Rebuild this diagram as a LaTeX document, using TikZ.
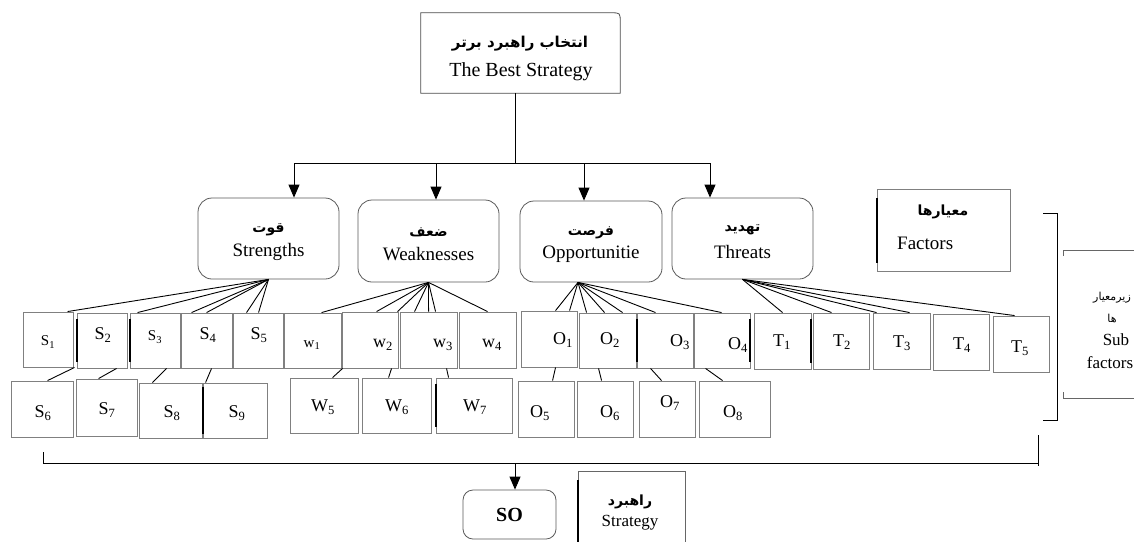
\documentclass[tikz,border=0pt]{standalone}
\usepackage{fontspec}
\setmainfont{Liberation Serif}
\newfontfamily\fa[Script=Arabic]{DejaVu Sans}
\TeXXeTstate=1
\usetikzlibrary{arrows.meta,calc,fit}
\tikzset{
  boxline/.style={draw=black!70, line width=0.8pt},
  factorbox/.style={draw=black!65, line width=0.8pt, rounded corners=14pt, inner sep=0pt},
  subbx/.style={draw=black!50, line width=0.9pt, inner sep=0pt},
  conn/.style={draw=black, line width=0.9pt},
  thickedge/.style={draw=black, line width=2pt},
  arr/.style={draw=black, line width=0.9pt, -{Triangle[length=13pt,width=11pt]}},
  lat/.style={font=\fontsize{19}{22}\selectfont, inner sep=0pt},
  smlat/.style={font=\fontsize{17}{20}\selectfont, inner sep=0pt},
  per/.style={font=\fa\bfseries\fontsize{14}{18}\selectfont, inner sep=0pt},
  smper/.style={font=\fa\fontsize{11}{14}\selectfont, inner sep=0pt},
  sublab/.style={font=\fontsize{18}{20}\selectfont, inner sep=0pt},
}
\newcommand\mkbox[8]{%
  \coordinate (#1a) at (#2,#3);
  \coordinate (#1b) at (#4,#5);
  \node[subbx, fit=(#1a)(#1b)] (#1) {};
  \node[sublab] (#1t) at (#6,#7) {#8};}
\newcommand\sbs[2]{#1\textsubscript{#2}}
\newcommand\smsbs[2]{{\fontsize{15}{16}\selectfont #1\textsubscript{#2}}}
\newcommand\mkfactor[7]{%
  \coordinate (#1a) at (#2,#3);
  \coordinate (#1b) at (#4,#5);
  \node[factorbox, fit=(#1a)(#1b)] (#1) {};
  \node[per] (#1fa) at ($(#1.center)+(0,-9)$) {\beginR #6\endR};
  \node[lat] (#1en) at ($(#1.center)+(0,13)$) {#7};}
\begin{document}
\begin{tikzpicture}[x=1pt,y=-1pt]
\useasboundingbox (0,0) rectangle (1134,542);

% top box
\node[minimum width=199pt, minimum height=80pt, inner sep=0pt] (top) at (520.5,53) {};
\draw[boxline] (top.south west) -- (top.north west) -- ([xshift=-9pt]top.north east)
  .. controls (top.north east) .. ([yshift=-9pt]top.north east) -- (top.south east) -- cycle;
\node[per, font=\fa\bfseries\fontsize{15}{18}\selectfont] (topfa) at (520,44) {\beginR انتخاب راهبرد برتر\endR};
\node[lat, font=\fontsize{20}{22}\selectfont] (topen) at (521,72) {The Best Strategy};

% factor boxes
\mkfactor{str}{198}{198}{339}{279}{قوت}{Strengths}
\mkfactor{weak}{358}{200}{499}{282}{ضعف}{Weaknesses}
\mkfactor{opp}{520}{201}{662}{282}{فرصت}{Opportunitie}
\mkfactor{thr}{672}{198}{813}{279}{تهدید}{Threats}

% tree connectors
\coordinate (j) at (515,163);
\coordinate (a1) at (294,163);
\coordinate (a2) at (436,163);
\coordinate (a3) at (584,163);
\coordinate (a4) at (710,163);
\draw[conn] (j |- top.south) -- (j);
\draw[conn] (a1) -- (a4);
\draw[arr] (a1) -- (a1 |- str.north);
\draw[arr] (a2) -- (a2 |- weak.north);
\draw[arr] (a3) -- (a3 |- opp.north);
\draw[arr] (a4) -- (a4 |- thr.north);

% sub factor boxes, row 1
\mkbox{s1}{23}{312}{73}{367}{48}{342}{\smsbs{S}{1}}
\mkbox{s2}{77}{313}{127}{368}{103}{335}{\sbs{S}{2}}
\mkbox{s3}{130}{313}{180}{368}{155}{337}{\smsbs{S}{3}}
\mkbox{s4}{181}{313}{232}{368}{208}{335}{\sbs{S}{4}}
\mkbox{s5}{233}{313}{283}{368}{259}{335}{\sbs{S}{5}}
\mkbox{w1}{284}{313}{341}{368}{312}{345}{\smsbs{w}{1}}
\mkbox{w2}{342}{312}{398}{368}{383}{345}{\sbs{w}{2}}
\mkbox{w3}{400}{312}{457}{368}{443}{345}{\sbs{w}{3}}
\mkbox{w4}{459}{312}{516}{368}{492}{345}{\sbs{w}{4}}
\mkbox{o1}{521}{311}{577}{367}{563}{340}{\sbs{O}{1}}
\mkbox{o2}{579}{313}{636}{368}{610}{340}{\sbs{O}{2}}
\mkbox{o3}{637}{313}{693}{368}{680}{342}{\sbs{O}{3}}
\mkbox{o4}{694}{313}{750}{368}{738}{345}{\sbs{O}{4}}
\mkbox{t1}{754}{313}{811}{369}{782}{342}{\sbs{T}{1}}
\mkbox{t2}{813}{313}{869}{369}{842}{342}{\sbs{T}{2}}
\mkbox{t3}{873}{313}{930}{369}{902}{343}{\sbs{T}{3}}
\mkbox{t4}{933}{314}{989}{370}{962}{345}{\sbs{T}{4}}
\mkbox{t5}{993}{316}{1049}{372}{1020}{348}{\sbs{T}{5}}
% row 2
\mkbox{s6}{11}{381}{73}{437}{43}{413}{\sbs{S}{6}}
\mkbox{s7}{76}{379}{137}{436}{107}{410}{\sbs{S}{7}}
\mkbox{s8}{139}{383}{202}{438}{172}{413}{\sbs{S}{8}}
\mkbox{s9}{203}{383}{267}{438}{237}{413}{\sbs{S}{9}}
\mkbox{w5}{290}{378}{358}{433}{323}{407}{\sbs{W}{5}}
\mkbox{w6}{362}{378}{431}{433}{397}{407}{\sbs{W}{6}}
\mkbox{w7}{436}{378}{512}{433}{475}{407}{\sbs{W}{7}}
\mkbox{o5}{518}{381}{574}{437}{540}{413}{\sbs{O}{5}}
\mkbox{o6}{577}{381}{633}{437}{610}{413}{\sbs{O}{6}}
\mkbox{o7}{639}{381}{695}{437}{670}{403}{\sbs{O}{7}}
\mkbox{o8}{699}{381}{770}{437}{733}{413}{\sbs{O}{8}}

% some dark edges
\draw[thickedge] ([yshift=-6pt]s2.north west) -- ([yshift=6pt]s2.south west);
\draw[thickedge] ([yshift=-6pt]s3.north west) -- ([yshift=6pt]s3.south west);
\draw[thickedge] ([yshift=-6pt]o3.north west) -- ([yshift=6pt]o3.south west);
\draw[thickedge] ([yshift=-6pt]o4.north east) -- ([yshift=6pt]o4.south east);
\draw[thickedge] ([yshift=-6pt]t1.north east) -- ([yshift=6pt]t1.south east);
\draw[thickedge] ([yshift=-6pt]w7.north west) -- ([yshift=6pt]w7.south west);
\draw[thickedge] ([yshift=-4pt]s9.north west) -- ([yshift=4pt]s9.south west);

% connectors from factors to sub factors
\coordinate (sap) at (str.south);
\coordinate (wap) at (weak.south);
\coordinate (oap) at ([xshift=-13pt]opp.south);
\coordinate (tap) at (thr.south);
\foreach \n/\d in {s1/45, s3/8, s4/11, s4/26, s5/14, s5/26}
  \draw[conn] (sap) -- ($(\n.north west)+(\d,0)$);
\foreach \n/\d in {w1/38, w2/35, w2/56, w3/15, w3/29, w3/36, w4/29}
  \draw[conn] (wap) -- ($(\n.north west)+(\d,0)$);
\foreach \n/\d in {o1/35, o1/49, o2/8, o2/26, o2/44, o3/19, o4/28}
  \draw[conn] (oap) -- ($(\n.north west)+(\d,0)$);
\foreach \n/\d in {t1/29, t2/19, t3/4, t3/37, t5/22}
  \draw[conn] (tap) -- ($(\n.north west)+(\d,0)$);

% row 1 to row 2
\foreach \a/\da/\b/\db in {s1/52/s6/37, s2/40/s7/23, s3/37/s8/14, s4/31/s9/3,
    w2/1/w5/43, w2/50/w6/27, w3/47/w7/13,
    o1/35/o5/35, o2/20/o6/25, o3/14/o7/23, o4/12/o8/24}
  \draw[conn] ($(\a.south west)+(\da,0)$) -- ($(\b.north west)+(\db,0)$);

% Factors legend
\coordinate (fa) at (877,189);
\coordinate (fb) at (1010,271);
\node[subbx, fit=(fa)(fb)] (fact) {};
\draw[thickedge] (877,198) -- (877,263);
\node[per] (factfa) at (943,212) {\beginR معیارها\endR};
\node[lat, anchor=west] (facten) at (897,243) {Factors};

% right bracket and sub factors legend
\coordinate (rb1) at (1043,213);
\coordinate (rb2) at (1057,213);
\coordinate (rb3) at (1057,420);
\coordinate (rb4) at (1043,420);
\draw[conn] (rb1) -- (rb2) -- (rb3) -- (rb4);
\coordinate (sf1) at (1063,256);
\coordinate (sf2) at (1063,250);
\coordinate (sf3) at (1134,250);
\coordinate (sf4) at (1063,392);
\coordinate (sf5) at (1063,398);
\coordinate (sf6) at (1134,398);
\draw[draw=black!60, line width=0.8pt] (sf1) -- (sf2) -- (sf3);
\draw[draw=black!60, line width=0.8pt] (sf4) -- (sf5) -- (sf6);
\node[smper] (subfa1) at (1112,298) {\beginR زیرمعیار\endR};
\node[smper] (subfa2) at (1112,318) {\beginR ها\endR};
\node[smlat] (suben1) at (1116,340) {Sub};
\node[smlat] (suben2) at (1110,363) {factors};

% bottom bracket
\coordinate (bb1) at (43,452);
\coordinate (bb2) at (43,463);
\coordinate (bb3) at (1038,463);
\coordinate (bt1) at (1038,435);
\coordinate (bt2) at (1038,466);
\draw[conn] (bb1) -- (bb2) -- (bb3);
\draw[conn] (bt1) -- (bt2);

% SO box
\coordinate (soa) at (463,490);
\coordinate (sob) at (556,539);
\node[factorbox, rounded corners=10pt, fit=(soa)(sob)] (so) {};
\node[lat, font=\bfseries\fontsize{20}{22}\selectfont] (sot) at (so.center) {SO};
\coordinate (sj) at (515,463);
\draw[arr] (sj) -- (sj |- so.north);

% Strategy legend
\coordinate (st1) at (578,542);
\coordinate (st2) at (578,471);
\coordinate (st3) at (685,471);
\coordinate (st4) at (685,542);
\draw[draw=black!60, line width=0.8pt] (st1) -- (st2) -- (st3) -- (st4);
\draw[thickedge] (578,480) -- (st1);
\node[per] (stfa) at (630,502) {\beginR راهبرد\endR};
\node[smlat] (sten) at (630,523) {Strategy};
\end{tikzpicture}
\end{document}
